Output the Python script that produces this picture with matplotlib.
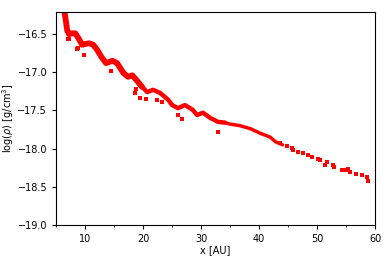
import numpy as np
import matplotlib.pyplot as plt
from matplotlib.ticker import MultipleLocator

plt.rcParams.update({
    "font.size": 7,
})

# Dense inner band (ridge of the profile)
band_x = [6.2, 6.4, 6.7, 6.9, 7.2, 7.8, 8.3, 8.8, 9.5, 10.0, 10.7, 11.4,
          12.1, 12.8, 13.6, 14.7, 15.5, 16.6, 17.4, 18.1, 18.6, 19.8]
band_y = [-16.05, -16.19, -16.34, -16.45, -16.50, -16.49, -16.49, -16.55,
          -16.64, -16.63, -16.62, -16.64, -16.71, -16.80, -16.88, -16.85,
          -16.88, -17.01, -17.06, -17.04, -17.08, -17.19]

mid_x = [19.8, 20.7, 21.7, 22.9, 24.3, 25.0, 26.0, 27.2, 28.5, 29.3, 30.3,
         31.6, 32.9, 34.1]
mid_y = [-17.19, -17.26, -17.23, -17.27, -17.36, -17.43, -17.47, -17.43,
         -17.49, -17.56, -17.53, -17.60, -17.65, -17.66]

outer_x = [34.1, 35.0, 36.7, 38.5, 40.2, 41.9, 42.8, 44.0]
outer_y = [-17.66, -17.68, -17.70, -17.74, -17.80, -17.85, -17.91, -17.95]

# Sparse points in the outer disc
dots_x = [43.6, 44.8, 45.7, 45.9, 46.7, 47.6, 48.5, 49.1, 50.2, 50.5, 51.7,
          51.4, 52.8, 52.9, 54.3, 54.8, 55.2, 55.3, 55.7, 56.7, 57.8, 58.6,
          58.8]
dots_y = [-17.93, -17.97, -17.99, -18.02, -18.04, -18.06, -18.08, -18.11,
          -18.14, -18.15, -18.18, -18.21, -18.21, -18.24, -18.28, -18.28,
          -18.28, -18.27, -18.31, -18.33, -18.35, -18.37, -18.42]

# Scattered outliers below the band
out_x = [7.1, 7.2, 8.6, 8.8, 9.8, 14.5, 18.6, 18.8, 19.5, 20.5, 22.4, 23.3,
         26.0, 26.7, 32.9]
out_y = [-16.57, -16.57, -16.70, -16.68, -16.77, -16.98, -17.27, -17.22,
         -17.34, -17.35, -17.36, -17.39, -17.56, -17.61, -17.78]

fig = plt.figure(figsize=(3.9, 2.6), dpi=100)
ax = fig.add_axes([0.144, 0.135, 0.818, 0.819])

ax.plot(band_x, band_y, color="red", linewidth=4.2, solid_capstyle="round")
ax.plot(mid_x, mid_y, color="red", linewidth=3.2, solid_capstyle="round")
ax.plot(outer_x, outer_y, color="red", linewidth=2.5, solid_capstyle="round")
ax.scatter(dots_x, dots_y, s=6, color="red", marker="s", linewidths=0)
ax.scatter(out_x, out_y, s=5, color="red", marker="s", linewidths=0)

ax.set_xlim(5, 60)
ax.set_ylim(-19.0, -16.21)
ax.xaxis.set_minor_locator(MultipleLocator(5))
ax.yaxis.set_major_locator(MultipleLocator(0.5))
ax.tick_params(which="minor", length=1.5)
ax.tick_params(which="major", length=3)

ax.set_xlabel("x [AU]", labelpad=1)
ax.set_ylabel(r"log($\rho$) [g/cm$^3$]", labelpad=1)

plt.savefig("out.png", dpi=100)
plt.close()
